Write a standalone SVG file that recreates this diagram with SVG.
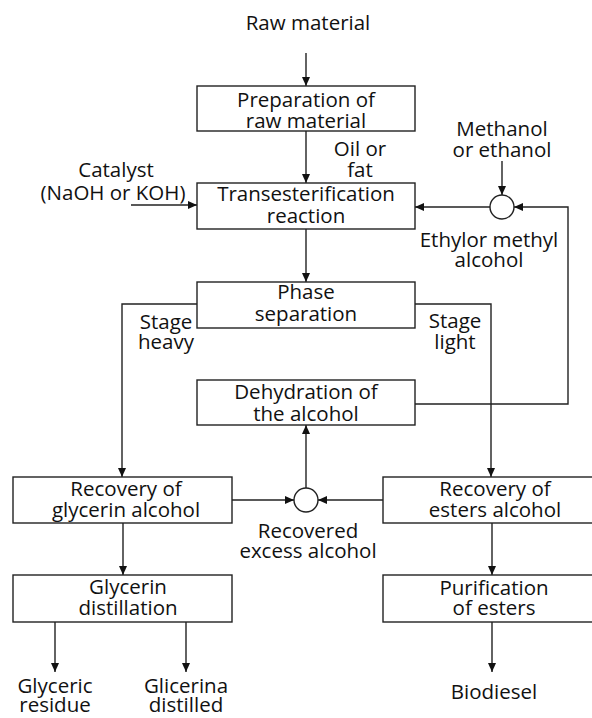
<svg xmlns="http://www.w3.org/2000/svg" width="592" height="718" viewBox="0 0 592 718">
<defs>
<style>
.box{fill:#fff;stroke:#222;stroke-width:1.4}
.ln{fill:none;stroke:#222;stroke-width:1.4}
.ar{marker-end:url(#ah)}
text{font-family:"Open Sans","Noto Sans","Liberation Sans",sans-serif;font-size:20.5px;fill:#111;text-anchor:middle}
</style>
<marker id="ah" markerUnits="userSpaceOnUse" markerWidth="10" markerHeight="10" refX="9" refY="4" orient="auto">
<path d="M0,0 L9,4 L0,8 z" fill="#111"/>
</marker>
</defs>
<rect width="592" height="718" fill="#fff"/>
<g id="connectors">
<line class="ln ar" x1="306" y1="53" x2="306" y2="86"/>
<line class="ln ar" x1="306" y1="131" x2="306" y2="183"/>
<line class="ln ar" x1="131" y1="205" x2="197" y2="205"/>
<line class="ln ar" x1="502" y1="161" x2="502" y2="195"/>
<line class="ln ar" x1="490" y1="207" x2="415" y2="207"/>
<polyline class="ln ar" points="415,404 568,404 568,207 514,207"/>
<line class="ln ar" x1="306" y1="229" x2="306" y2="282"/>
<polyline class="ln ar" points="197,304 122,304 122,477"/>
<polyline class="ln ar" points="415,304 491,304 491,477"/>
<line class="ln ar" x1="306" y1="488" x2="306" y2="425"/>
<line class="ln ar" x1="232" y1="500" x2="294" y2="500"/>
<line class="ln ar" x1="383" y1="500" x2="318" y2="500"/>
<line class="ln ar" x1="123" y1="523" x2="123" y2="575"/>
<line class="ln ar" x1="55" y1="622" x2="55" y2="672"/>
<line class="ln ar" x1="186" y1="622" x2="186" y2="672"/>
<line class="ln ar" x1="492" y1="523" x2="492" y2="575"/>
<line class="ln ar" x1="492" y1="622" x2="492" y2="672"/>
</g>
<g id="raw-material"><text x="308" y="30">Raw material</text></g>
<g id="preparation">
<rect class="box" x="197" y="86" width="218" height="45"/>
<text x="306" y="107">Preparation of</text>
<text x="306" y="128">raw material</text>
</g>
<g id="oil-label"><text x="360" y="156">Oil or</text><text x="360" y="177">fat</text></g>
<g id="catalyst"><text x="116" y="177">Catalyst</text><text x="113" y="200">(NaOH or KOH)</text></g>
<g id="transesterification">
<rect class="box" x="197" y="183" width="218" height="46"/>
<text x="306" y="201">Transesterification</text>
<text x="306" y="223">reaction</text>
</g>
<g id="methanol"><text x="502" y="136">Methanol</text><text x="502" y="157">or ethanol</text></g>
<g id="mixer-top"><circle class="box" cx="502" cy="207" r="12"/></g>
<g id="ethyl-label"><text x="489" y="247">Ethylor methyl</text><text x="489" y="267">alcohol</text></g>
<g id="phase-separation">
<rect class="box" x="197" y="282" width="218" height="46"/>
<text x="306" y="299">Phase</text>
<text x="306" y="321">separation</text>
</g>
<g id="heavy-label"><text x="166" y="329">Stage</text><text x="166" y="349">heavy</text></g>
<g id="light-label"><text x="455" y="328">Stage</text><text x="455" y="349">light</text></g>
<g id="dehydration">
<rect class="box" x="197" y="380" width="218" height="45"/>
<text x="306" y="399">Dehydration of</text>
<text x="306" y="421">the alcohol</text>
</g>
<g id="recovery-glycerin">
<rect class="box" x="13" y="477" width="219" height="46"/>
<text x="126" y="496">Recovery of</text>
<text x="126" y="517">glycerin alcohol</text>
</g>
<g id="mixer-bottom"><circle class="box" cx="306" cy="500" r="12"/></g>
<g id="recovered-label"><text x="308" y="538">Recovered</text><text x="308" y="558">excess alcohol</text></g>
<g id="recovery-esters">
<rect class="box" x="383" y="477" width="212" height="46"/>
<text x="495" y="496">Recovery of</text>
<text x="495" y="517">esters alcohol</text>
</g>
<g id="glycerin-distillation">
<rect class="box" x="13" y="575" width="219" height="47"/>
<text x="128" y="594">Glycerin</text>
<text x="128" y="615">distillation</text>
</g>
<g id="purification">
<rect class="box" x="383" y="575" width="212" height="47"/>
<text x="494" y="595">Purification</text>
<text x="494" y="615">of esters</text>
</g>
<g id="glyceric-residue"><text x="55" y="693">Glyceric</text><text x="55" y="712">residue</text></g>
<g id="glicerina-distilled"><text x="186" y="693">Glicerina</text><text x="186" y="712">distilled</text></g>
<g id="biodiesel"><text x="494" y="699">Biodiesel</text></g>
</svg>
